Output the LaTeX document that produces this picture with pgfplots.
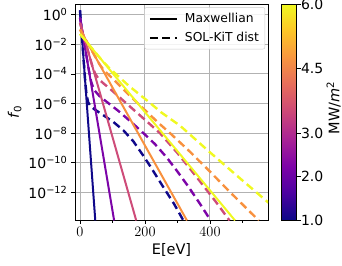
\documentclass[border=0pt]{standalone}
\usepackage{fontspec}
\setmainfont{DejaVu Sans}
\usepackage{pgfplots}
\pgfplotsset{compat=1.18}
\definecolor{c1}{RGB}{16,8,138}
\definecolor{c2}{RGB}{124,4,168}
\definecolor{c3}{RGB}{206,76,121}
\definecolor{c4}{RGB}{248,145,62}
\definecolor{c5}{RGB}{240,249,33}
\begin{document}
\begin{tikzpicture}
\useasboundingbox (0,0) rectangle (342pt,265pt);
\begin{axis}[
  at={(75pt,45pt)}, anchor=south west,
  scale only axis, width=193pt, height=216pt,
  ymode=log, log basis y=10,
  xmin=-15.4, xmax=578.5,
  ymin=1.35e-14, ymax=5.28,
  xtick={0,200,400}, minor xtick={100,300,500},
  ytick={1,1e-2,1e-4,1e-6,1e-8,1e-10,1e-12},
  yticklabels={10\textsuperscript{0},10\textsuperscript{−2},10\textsuperscript{−4},10\textsuperscript{−6},10\textsuperscript{−8},10\textsuperscript{−10},10\textsuperscript{−12}},
  yminorticks=false,
  tick pos=left, tick align=outside,
  major tick length=4pt, minor tick length=2.5pt,
  every tick/.style={black, line width=0.8pt},
  grid=major, major grid style={black!30, line width=1pt},
  axis line style={line width=0.9pt},
  tick label style={font=\fontsize{14}{16}\selectfont},
  label style={font=\fontsize{14.5}{17}\selectfont},
  xlabel={E[eV]}, ylabel={\textit{f}\textsubscript{0}},
  colormap={plasma}{rgb255=(13,8,135) rgb255=(76,2,161) rgb255=(126,3,168) rgb255=(169,35,149) rgb255=(204,71,120) rgb255=(230,108,92) rgb255=(248,149,64) rgb255=(253,197,39) rgb255=(240,249,33)},
  colorbar, point meta min=1, point meta max=6,
  colorbar style={
    at={(parent axis.north east)}, anchor=north west, xshift=5pt,
    scale only axis, width=15pt, height=216pt,
    ytick={1,2,3,4.5,6}, yticklabels={1.0,2.0,3.0,4.5,6.0},
    ytick pos=right, yticklabel pos=right, tick align=outside,
    major tick length=4pt,
    ytick style={black, line width=0.8pt},
    axis line style={line width=0.9pt},
    yticklabel style={font=\fontsize{14}{16}\selectfont, xshift=-3pt},
    ylabel={MW/\textit{m}\textsuperscript{2}},
    every axis y label/.style={at={(axis description cs:3.47,0.52)}, anchor=center, rotate=90, font=\fontsize{14.5}{17}\selectfont},
  },
  legend style={at={(0.985,0.985)}, anchor=north east, draw=black!20, rounded corners=2pt,
    fill=white, fill opacity=0.85, text opacity=1, inner sep=4pt,
    font=\fontsize{12.3}{14}\selectfont, row sep=4pt, column sep=5pt},
  legend cell align=left,
  legend image code/.code={\draw[#1] (0pt,0pt) -- (27pt,0pt);},
]
\addlegendimage{black, line width=2pt}
\addlegendentry{Maxwellian}
\addlegendimage{black, line width=2.4pt, dash pattern=on 8pt off 4.5pt}
\addlegendentry{SOL-KiT dist}
% 1.0 MW/m^2
\addplot[c1, line width=2pt, forget plot] coordinates {(0,2.0) (47,1.26e-14)};
\addplot[c1, line width=2.4pt, dash pattern=on 8pt off 4.5pt, forget plot] coordinates {
(0,2.0) (10,2.0e-3) (16,3.16e-5) (20,3.98e-6) (25,1.26e-6) (31,7.08e-7) (45,3.98e-7) (62,2.24e-7) (100,6.31e-8) (133,1.58e-8) (164,2.82e-9) (194,3.16e-10) (215,6.31e-11) (255,2.51e-12) (290,1.58e-13) (318,1.26e-14)};
% 2.0
\addplot[c2, line width=2pt, forget plot] coordinates {(0,0.631) (105,1.26e-14)};
\addplot[c2, line width=2.4pt, dash pattern=on 8pt off 4.5pt, forget plot] coordinates {
(0,0.631) (20,1.58e-3) (28,1.45e-4) (34,3.16e-5) (40,1.26e-5) (46,7.08e-6) (60,3.16e-6) (80,1.41e-6) (118,3.16e-7) (160,5.01e-8) (200,7.94e-9) (231,1.78e-9) (267,2.24e-10) (300,2.51e-11) (333,2.51e-12) (370,1.58e-13) (402,1.26e-14)};
% 3.0
\addplot[c3, line width=2pt, forget plot] coordinates {(0,0.282) (173,1.26e-14)};
\addplot[c3, line width=2.4pt, dash pattern=on 8pt off 4.5pt, forget plot] coordinates {
(0,0.282) (25,3.31e-3) (38,3.31e-4) (46,1.12e-4) (56,5.01e-5) (70,2.51e-5) (92,1.0e-5) (138,1.26e-6) (200,7.94e-8) (246,1.0e-8) (300,4.47e-10) (360,1.0e-11) (420,2.0e-13) (460,1.26e-14)};
% 4.5
\addplot[c4, line width=2pt, forget plot] coordinates {(0,0.1) (329,1.26e-14)};
\addplot[c4, line width=2.4pt, dash pattern=on 8pt off 4.5pt, forget plot] coordinates {
(0,0.1) (40,2.69e-3) (60,4.47e-4) (75,1.58e-4) (100,5.01e-5) (150,3.98e-6) (200,3.55e-7) (246,3.98e-8) (277,1.0e-8) (338,5.62e-10) (400,2.51e-11) (460,1.12e-12) (520,5.62e-14) (550,1.26e-14)};
% 6.0
\addplot[c5, line width=2pt, forget plot] coordinates {(0,0.0501) (477,1.26e-14)};
\addplot[c5, line width=2.4pt, dash pattern=on 8pt off 4.5pt, forget plot] coordinates {
(0,0.0501) (50,2.40e-3) (70,7.08e-4) (90,2.51e-4) (120,6.31e-5) (150,1.58e-5) (215,1.12e-6) (250,2.51e-7) (308,3.16e-8) (400,5.01e-10) (500,6.31e-12) (580,2.0e-13)};
\end{axis}
\end{tikzpicture}
\end{document}
